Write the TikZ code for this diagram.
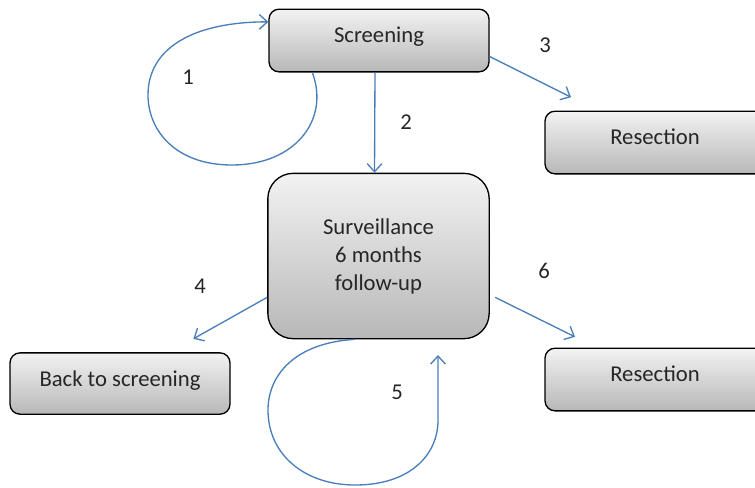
\documentclass[tikz,border=0pt]{standalone}
\usepackage{fontspec}
\setmainfont{Carlito}
\usetikzlibrary{arrows.meta}
\definecolor{lnColor}{HTML}{4A7EBB}
\definecolor{txtColor}{HTML}{262626}

\begin{document}
\begin{tikzpicture}[x=0.75pt,y=-0.75pt,
	box/.style={draw, line width=1pt, rounded corners=7.5pt, top color=black!5, bottom color=black!28,
		minimum width=165pt, minimum height=47pt, inner sep=0, align=center,
		text=txtColor, font=\fontsize{17}{21}\selectfont},
	onebox/.style={box, text height=12pt, text depth=8.5pt},
	lnk/.style={draw=lnColor, line width=1pt, -{Straight Barb[length=6pt,width=11pt]}},
	num/.style={inner sep=0, text=txtColor, font=\fontsize{17}{21}\selectfont}]
	\clip (0,0) rectangle (755,487);
	\node[onebox] (scr) at (379, 40.5) {Screening};
	\node[onebox] (res1) at (655, 142.5) {Resection};
	\node[box, rounded corners=19pt, minimum width=166pt, minimum height=124pt] (sur) at (378.5, 256) {Surveillance\\6 months\\follow-up};
	\node[onebox, minimum height=46pt, text depth=7pt] (back) at (120, 383.5) {Back to screening};
	\node[onebox] (res2) at (655, 379.5) {Resection};
	\coordinate (l5) at (438, 355);
	% transition numbers
	\node[num] (n1) at (188, 77) {1};
	\node[num] (n2) at (406, 122) {2};
	\node[num] (n3) at (545, 45) {3};
	\node[num] (n4) at (200, 286) {4};
	\node[num] (n5) at (397, 392) {5};
	\node[num] (n6) at (544, 271) {6};
	% arrows
	\path[lnk] ([xshift=33pt]scr.south west) .. controls (330, 120) and (295, 165) .. (232, 165)
		.. controls (175, 165) and (148, 130) .. (148, 95)
		.. controls (148, 50) and (190, 22) .. ([yshift=-10pt]scr.north west);
	\path[lnk] ([xshift=-3pt]scr.south) -- ([xshift=-3pt]sur.north);
	\path[lnk] ([yshift=-12pt]scr.east) -- ([xshift=20pt,yshift=10pt]res1.north west);
	\path[lnk] ([yshift=-31pt]sur.west) -- ([xshift=-28pt,yshift=10pt]back.north east);
	\path[lnk] ([xshift=-18pt]sur.south) .. controls (295, 343) and (268, 375) .. (268, 410)
		.. controls (268, 455) and (305, 485) .. (355, 485)
		.. controls (410, 485) and (438, 455) .. (438, 420) -- (l5);
	\path[lnk] ([xshift=4pt,yshift=-31pt]sur.east) -- ([xshift=23pt,yshift=8pt]res2.north west);
\end{tikzpicture}
\end{document}
